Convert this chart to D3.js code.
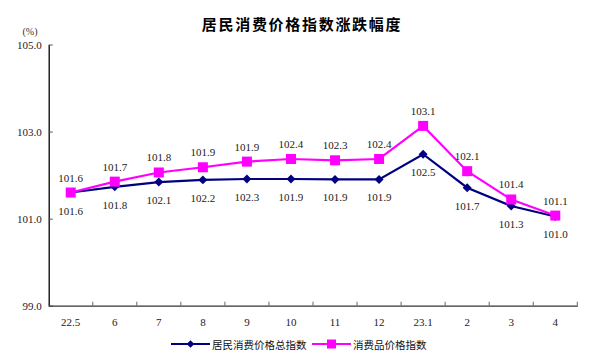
<!DOCTYPE html>
<html><head><meta charset="utf-8">
<script src="https://cdn.jsdelivr.net/npm/d3@7"></script>
<style>body{margin:0;background:#fff}svg{display:block}</style>
</head><body>
<script>
const categories = ["22.5","6","7","8","9","10","11","12","23.1","2","3","4"];
const cpiValues = [101.6,101.73,101.84,101.89,101.91,101.91,101.9,101.9,102.48,101.71,101.29,101.05];
const goodsValues = [101.6,101.85,102.06,102.18,102.31,102.37,102.34,102.37,103.13,102.09,101.44,101.07];
const upperLabels = ["101.6","101.7","101.8","101.9","101.9","102.4","102.3","102.4","103.1","102.1","101.4","101.1"];
const lowerLabels = ["101.6","101.8","102.1","102.2","102.3","101.9","101.9","101.9","102.5","101.7","101.3","101.0"];
const yTicks = [99, 101, 103, 105];
const seriesNames = ["居民消费价格总指数","消费品价格指数"];
const title = "居民消费价格指数涨跌幅度";

(function(){
const W = 600, H = 359;
const svg = d3.select("body").append("svg").attr("width", W).attr("height", H);
const mL = 48.7, mR = 577.3, mT = 44.5, mB = 305.7;
const x = d3.scaleBand().domain(categories).range([mL, mR]);
const y = d3.scaleLinear().domain([99, 105]).range([mB, mT]);
const navy = "#000080", mag = "#FF00FF";
const numFont = "'Liberation Serif', serif";

svg.append("text").attr("x", 302).attr("y", 23).attr("text-anchor", "middle")
  .attr("dominant-baseline", "central").attr("font-family", "'Noto Sans CJK SC'")
  .attr("font-weight", "bold").attr("font-size", 15).attr("letter-spacing", 1.7).text(title);
svg.append("text").attr("x", 30).attr("y", 31).attr("text-anchor", "middle")
  .attr("dominant-baseline", "central").attr("font-family", numFont)
  .attr("font-size", 10).attr("fill", "#333").text("(%)");

// y axis
const ya = svg.append("g").attr("transform", `translate(${mL},0)`)
  .call(d3.axisLeft(y).tickValues(yTicks).tickFormat(d3.format(".1f")).tickSizeInner(-4).tickSizeOuter(0).tickPadding(7));
ya.select(".domain").attr("stroke", "#000").attr("stroke-width", 1.3);
ya.selectAll(".tick line").attr("stroke", "#555");
ya.selectAll("text").attr("font-family", numFont).attr("font-size", 11).attr("fill", "#222");

// x axis
const xa = svg.append("g").attr("transform", `translate(0,${mB})`)
  .call(d3.axisBottom(x).tickSize(0).tickPadding(13));
xa.select(".domain").attr("stroke", "#333").attr("stroke-width", 1.2);
xa.selectAll("text").attr("font-family", numFont).attr("font-size", 11).attr("fill", "#222");
const bounds = categories.map(c => x(c) + x.bandwidth());
svg.append("g").selectAll("line").data(bounds).join("line")
  .attr("x1", d => d).attr("x2", d => d).attr("y1", mB - 4).attr("y2", mB)
  .attr("stroke", "#666").attr("stroke-width", 1);

const cx = c => x(c) + x.bandwidth() / 2;
const line = d3.line().x((d, i) => cx(categories[i])).y(d => y(d));

svg.append("path").datum(cpiValues).attr("d", line).attr("fill", "none")
  .attr("stroke", navy).attr("stroke-width", 2.2);
svg.append("path").datum(goodsValues).attr("d", line).attr("fill", "none")
  .attr("stroke", mag).attr("stroke-width", 2.2);

svg.append("g").selectAll("path").data(cpiValues).join("path")
  .attr("d", d3.symbol().type(d3.symbolSquare).size(40))
  .attr("transform", (d, i) => `translate(${cx(categories[i])},${y(d)}) rotate(45)`)
  .attr("fill", navy);
svg.append("g").selectAll("rect").data(goodsValues).join("rect")
  .attr("x", (d, i) => cx(categories[i]) - 5).attr("y", d => y(d) - 5)
  .attr("width", 10).attr("height", 10).attr("fill", mag);

svg.append("g").selectAll("text").data(upperLabels).join("text")
  .attr("x", (d, i) => cx(categories[i])).attr("y", (d, i) => y(goodsValues[i]) - 15)
  .attr("text-anchor", "middle").attr("dominant-baseline", "central")
  .attr("font-family", numFont).attr("font-size", 11).attr("fill", "#222").text(d => d);
svg.append("g").selectAll("text").data(lowerLabels).join("text")
  .attr("x", (d, i) => cx(categories[i])).attr("y", (d, i) => y(cpiValues[i]) + 18)
  .attr("text-anchor", "middle").attr("dominant-baseline", "central")
  .attr("font-family", numFont).attr("font-size", 11).attr("fill", "#222").text(d => d);

// legend
const lg = svg.append("g");
const items = [{n: seriesNames[0], c: navy, x0: 171, shape: "d"}, {n: seriesNames[1], c: mag, x0: 312, shape: "s"}];
const ly = 344;
items.forEach(it => {
  lg.append("line").attr("x1", it.x0).attr("x2", it.x0 + 39).attr("y1", ly).attr("y2", ly)
    .attr("stroke", it.c).attr("stroke-width", 2.2);
  if (it.shape === "d") {
    lg.append("path").attr("d", d3.symbol().type(d3.symbolSquare).size(30)())
      .attr("transform", `translate(${it.x0 + 19.5},${ly}) rotate(45)`).attr("fill", it.c);
  } else {
    lg.append("rect").attr("x", it.x0 + 15).attr("y", ly - 4.5).attr("width", 9).attr("height", 9).attr("fill", it.c);
  }
  lg.append("text").attr("x", it.x0 + 41).attr("y", ly).attr("dominant-baseline", "central")
    .attr("font-family", "'Noto Sans CJK SC'").attr("font-size", 10.5).attr("fill", "#111").text(it.n);
});
})();
</script>
</body></html>
